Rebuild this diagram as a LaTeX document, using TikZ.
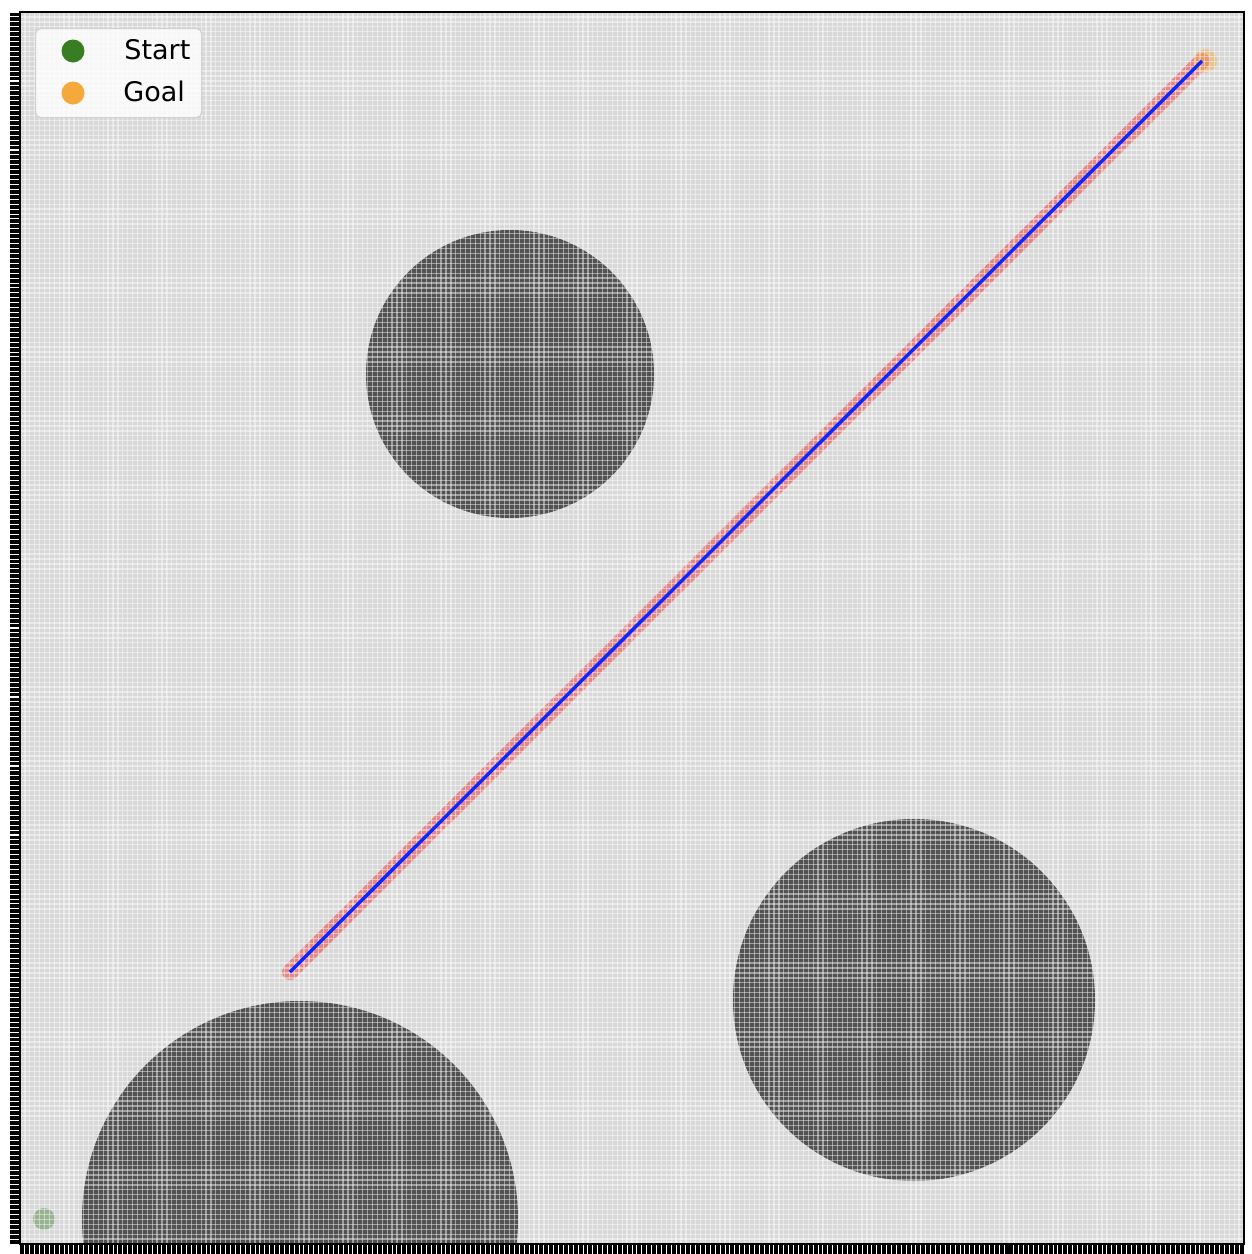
\documentclass[tikz,border=0pt]{standalone}
\usepackage{fontspec}
\setmainfont{DejaVu Sans}
\definecolor{freec}{RGB}{216,216,216}
\definecolor{obsc}{RGB}{82,82,82}
\definecolor{startc}{RGB}{56,125,34}
\definecolor{goalc}{RGB}{245,169,60}
\definecolor{bandc}{RGB}{238,70,70}
\definecolor{pathc}{RGB}{10,40,255}
\tikzset{
  gridl/.style={draw=white,opacity=0.45,line width=0.65pt},
  tickl/.style={draw=black,line width=1.95pt},
  obstacle/.style={fill=obsc},
  legtext/.style={anchor=base west,inner sep=0pt,font=\fontsize{13.5pt}{16pt}\selectfont},
  legdot/.style={circle,minimum size=11.5pt,inner sep=0pt}
}
\begin{document}
\begin{tikzpicture}[x=0.5pt,y=-0.5pt]
\useasboundingbox (0,0) rectangle (1252,1254);
\fill[white] (0,0) rectangle (1252,1254);
\begin{scope}
  \clip (20,12) rectangle (1244,1244);
  \fill[freec] (20,12) rectangle (1244,1244);
  \fill[obstacle] (510,374) circle[radius=144];
  \fill[obstacle] (914,1000) circle[radius=181];
  \fill[obstacle] (300,1219) circle[radius=218];
  \coordinate (ps) at (290,972);
  \coordinate (pg) at (1202,61);
  \draw[bandc,opacity=0.55,line width=8pt,line cap=round] (ps) -- (pg);
  \fill[startc,opacity=0.4] (44,1219) circle[radius=11];
  \fill[goalc,opacity=0.45] (1205,61) circle[radius=12];
  \foreach \i in {0,...,250} {
    \draw[gridl] ({20+\i*4.896},12) -- ({20+\i*4.896},1244);
    \draw[gridl] (20,{12+\i*4.928}) -- (1244,{12+\i*4.928});
  }
  \draw[pathc,line width=1.7pt] (ps) -- (pg);
\end{scope}
\draw[black,line width=1pt] (20,12) rectangle (1244,1244);
\foreach \i in {0,...,249} {
  \draw[tickl] ({20+(\i+0.5)*4.896},1244) -- ++(0,10);
  \draw[tickl] (20,{1244-(\i+0.5)*4.928}) -- ++(-10,0);
}
% legend
\node[draw=black!18,fill=white,fill opacity=0.8,draw opacity=1,rounded corners=2.5pt,line width=0.6pt,minimum width=83pt,minimum height=44.5pt,inner sep=0pt,anchor=north west] (leg) at (35,28) {};
\node[legdot,fill=startc] (ds) at (73,51) {};
\node[legdot,fill=goalc] (dg) at (73,93) {};
\node[legtext] (ts) at (124,59) {Start};
\node[legtext] (tg) at (123,101) {Goal};
\end{tikzpicture}
\end{document}
